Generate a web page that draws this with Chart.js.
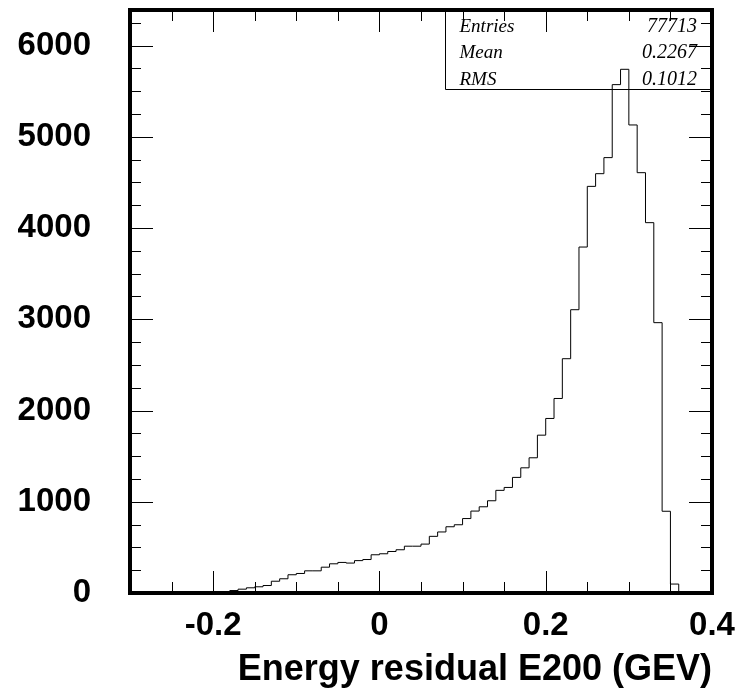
<!DOCTYPE html>
<html><head><meta charset="utf-8">
<script src="https://cdn.jsdelivr.net/npm/chart.js@4.4.1/dist/chart.umd.min.js"></script>
<style>html,body{margin:0;padding:0;background:#fff;overflow:hidden}</style>
</head><body>
<canvas id="c" width="745" height="696"></canvas>
<script>
// ---- data ----
const binLowEdges = [
  -0.30,-0.29,-0.28,-0.27,-0.26,-0.25,-0.24,-0.23,-0.22,-0.21,
  -0.20,-0.19,-0.18,-0.17,-0.16,-0.15,-0.14,-0.13,-0.12,-0.11,
  -0.10,-0.09,-0.08,-0.07,-0.06,-0.05,-0.04,-0.03,-0.02,-0.01,
   0.00, 0.01, 0.02, 0.03, 0.04, 0.05, 0.06, 0.07, 0.08, 0.09,
   0.10, 0.11, 0.12, 0.13, 0.14, 0.15, 0.16, 0.17, 0.18, 0.19,
   0.20, 0.21, 0.22, 0.23, 0.24, 0.25, 0.26, 0.27, 0.28, 0.29,
   0.30, 0.31, 0.32, 0.33, 0.34, 0.35, 0.36, 0.37, 0.38, 0.39
];
const counts = [
  0, 0, 0, 0, 0, 0, 0, 0, 0, 1,
  3, 10, 27, 42, 57, 68, 82, 129, 156, 200,
  214, 243, 243, 283, 320, 335, 328, 355, 367, 419,
  430, 455, 474, 513, 513, 536, 621, 669, 726, 748,
  816, 898, 945, 1011, 1125, 1157, 1267, 1372, 1482, 1730,
  1913, 2132, 2568, 3105, 3792, 4457, 4596, 4772, 5572, 5740,
  5130, 4607, 4059, 2963, 896, 98, 0, 0, 0, 0
];
const xUpperEdge = 0.40;
const xRange = [-0.3, 0.4];
const yRange = [0, 6390];
const xMajorTicks = [-0.2, 0, 0.2, 0.4];
const xTickLabels = ['-0.2', '0', '0.2', '0.4'];
const xMinorStep = 0.05;
const yMajorTicks = [0, 1000, 2000, 3000, 4000, 5000, 6000];
const yTickLabels = ['0', '1000', '2000', '3000', '4000', '5000', '6000'];
const yMinorStep = 250;
const statsLabels = ['Entries', 'Mean', 'RMS'];
const statsValues = ['77713', '0.2267', '0.1012'];
const xTitle = 'Energy residual E200 (GEV)';

// ---- build points ----
const points = binLowEdges.map((x, i) => ({x: x, y: counts[i]}));
points.push({x: xUpperEdge, y: 0});

const frameTicks = {
  id: 'frameTicks',
  afterDatasetsDraw(chart) {
    const ctx = chart.ctx;
    const a = chart.chartArea;
    const xs = chart.scales.x, ys = chart.scales.y;
    ctx.save();
    ctx.strokeStyle = '#000';
    ctx.lineWidth = 1;
    const isMaj = (arr, v, eps) => arr.some(m => Math.abs(m - v) < eps);
    // x ticks (bottom & top, inward)
    const nx = Math.round((xRange[1] - xRange[0]) / xMinorStep);
    for (let i = 0; i <= nx; i++) {
      const v = xRange[0] + i * xMinorStep;
      const px = Math.round(xs.getPixelForValue(v)) + 0.5;
      const len = isMaj(xMajorTicks, v, 1e-6) ? 22 : 11;
      ctx.beginPath();
      ctx.moveTo(px, a.bottom); ctx.lineTo(px, a.bottom - len);
      ctx.moveTo(px, a.top); ctx.lineTo(px, a.top + len);
      ctx.stroke();
    }
    // y ticks (left & right, inward)
    for (let v = yRange[0]; v <= yRange[1]; v += yMinorStep) {
      const py = Math.round(ys.getPixelForValue(v)) + 0.5;
      const len = isMaj(yMajorTicks, v, 1e-6) ? 23 : 11;
      ctx.beginPath();
      ctx.moveTo(a.left, py); ctx.lineTo(a.left + len, py);
      ctx.moveTo(a.right, py); ctx.lineTo(a.right - len, py);
      ctx.stroke();
    }
    // stats box
    const w = a.right - a.left, h = a.bottom - a.top;
    const bx = Math.round(a.left + 0.541 * w) + 0.5;
    const by = Math.round(a.top + 0.135 * h) + 0.5;
    ctx.beginPath();
    ctx.moveTo(bx, a.top); ctx.lineTo(bx, by); ctx.lineTo(a.right, by);
    ctx.stroke();
    ctx.fillStyle = '#000';
    ctx.textBaseline = 'alphabetic';
    const rowH = (by - a.top) / 3;
    statsLabels.forEach((t, i) => {
      const yb = a.top + rowH * (i + 1) - 5;
      ctx.font = 'italic 19px "Liberation Serif", "DejaVu Serif", serif';
      ctx.textAlign = 'left';
      ctx.fillText(t, bx + 14, yb);
      ctx.font = 'italic 20px "Liberation Serif", "DejaVu Serif", serif';
      ctx.textAlign = 'right';
      ctx.fillText(statsValues[i], a.right - 15, yb);
    });
    // frame
    ctx.lineWidth = 4;
    ctx.strokeRect(a.left, a.top, a.right - a.left, a.bottom - a.top);
    ctx.restore();
  }
};

const tickFont = {family: '"Liberation Sans", Arial, sans-serif', weight: 'bold', size: 33};

new Chart(document.getElementById('c'), {
  type: 'line',
  data: {
    datasets: [{
      data: points,
      stepped: 'before',
      borderColor: '#000',
      borderWidth: 1,
      pointRadius: 0,
      fill: false,
      tension: 0
    }]
  },
  options: {
    responsive: false,
    devicePixelRatio: 1,
    animation: false,
    layout: {padding: {top: 10, right: 33, left: 0, bottom: 0}},
    plugins: {legend: {display: false}, tooltip: {enabled: false}},
    scales: {
      x: {
        type: 'linear', position: 'bottom',
        min: xRange[0], max: xRange[1],
        grid: {display: false, drawTicks: false, tickLength: 0},
        border: {display: false},
        afterBuildTicks: s => { s.ticks = xMajorTicks.map(v => ({value: v})); },
        afterFit: s => { s.height = 103; s.paddingLeft = 0; s.paddingRight = 0; },
        ticks: {
          autoSkip: false, maxRotation: 0, padding: 13, color: '#000', font: tickFont,
          callback: (v) => { const i = xMajorTicks.findIndex(m => Math.abs(m - v) < 1e-6); return i >= 0 ? xTickLabels[i] : ''; }
        },
        title: {
          display: true, text: xTitle, align: 'end', color: '#000',
          font: {family: '"Liberation Sans", Arial, sans-serif', weight: 'bold', size: 36},
          padding: {top: 0, bottom: 4}
        }
      },
      y: {
        type: 'linear', position: 'left',
        min: yRange[0], max: yRange[1],
        grid: {display: false, drawTicks: false, tickLength: 0},
        border: {display: false},
        afterBuildTicks: s => { s.ticks = yMajorTicks.map(v => ({value: v})); },
        afterFit: s => { s.width = 130; s.paddingTop = 0; s.paddingBottom = 0; },
        ticks: {
          autoSkip: false, padding: 39, color: '#000', font: tickFont,
          callback: (v) => { const i = yMajorTicks.findIndex(m => Math.abs(m - v) < 1e-6); return i >= 0 ? yTickLabels[i] : ''; }
        }
      }
    }
  },
  plugins: [frameTicks]
});
</script>
</body></html>
